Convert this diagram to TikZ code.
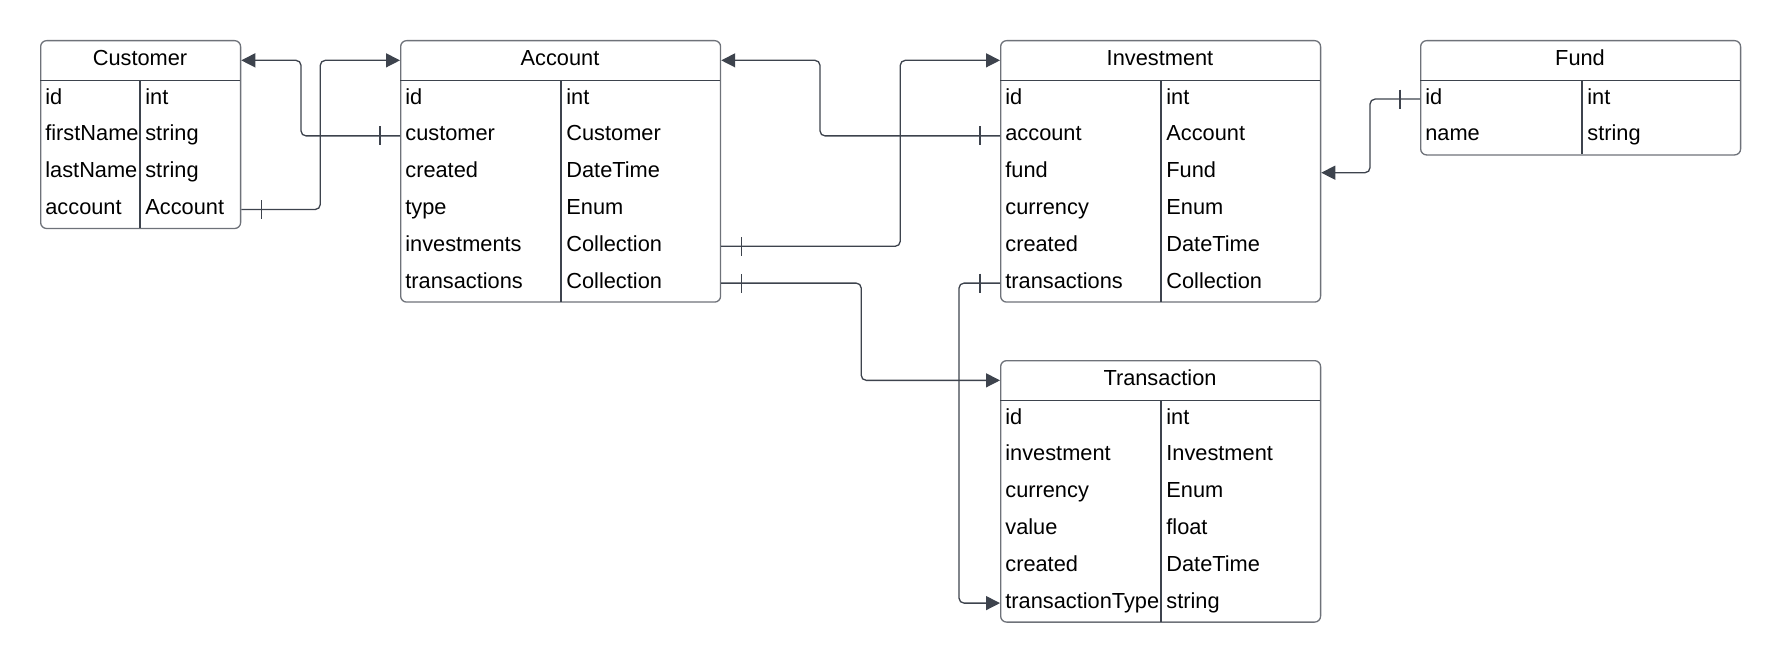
\documentclass[tikz,border=0pt]{standalone}
\usepackage{fontspec}
\setmainfont{Liberation Sans}
\usetikzlibrary{arrows.meta}
\usetikzlibrary{decorations.markings}
\usepackage{xcolor}

\definecolor{boxgray}{HTML}{6E7279}
\definecolor{linkgray}{HTML}{3D434D}

\tikzset{
  tbox/.style={draw=boxgray, line width=0.026cm, rounded corners=0.12cm, anchor=north west, inner sep=0pt},
  sepline/.style={draw=linkgray, line width=0.026cm},
  cell/.style={anchor=west, inner xsep=0.1cm, inner ysep=0pt, text height=0.3cm, text depth=0.1cm, font=\fontsize{12.4}{15}\selectfont},
  link/.style={draw=linkgray, line width=0.026cm, rounded corners=0.1cm, -{Triangle[length=0.28cm,width=0.28cm]}},
  one/.style={postaction={decorate, decoration={markings, mark=at position 0.4cm with {\draw[-, linkgray, line width=0.022cm] (0,-0.19cm) -- (0,0.19cm);}}}}
}

\begin{document}
\begin{tikzpicture}[x=0.02cm, y=-0.02cm]
            \useasboundingbox (0,0) rectangle (1780,662);
            % Customer table
            \node[tbox, minimum width=4cm, minimum height=3.758cm] (customer) at (40,40) {};
            \draw[sepline] (40,80.7) -- (240,80.7) (140,80.7) -- (140,227.9);
            \node[cell, anchor=center] (customer-h) at (140,60.35) {Customer};
            \foreach \f/\t [count=\i] in {id/int, firstName/string, lastName/string, account/Account} {
                \node[cell] (customer-\f) at (40,{62.3+36.8*\i}) {\f};
                \node[cell] (customer-\f-type) at (140,{62.3+36.8*\i}) {\t};
            }

            % Account table
            \node[tbox, minimum width=6.4cm, minimum height=5.23cm] (account) at (400,40) {};
            \draw[sepline] (400,80.7) -- (720,80.7) (561,80.7) -- (561,301.5);
            \node[cell, anchor=center] (account-h) at (560,60.35) {Account};
            \foreach \f/\t [count=\i] in {id/int, customer/Customer, created/DateTime, type/Enum, investments/Collection, transactions/Collection} {
                \node[cell] (account-\f) at (400,{62.3+36.8*\i}) {\f};
                \node[cell] (account-\f-type) at (561,{62.3+36.8*\i}) {\t};
            }

            % Investment table
            \node[tbox, minimum width=6.4cm, minimum height=5.23cm] (investment) at (1000,40) {};
            \draw[sepline] (1000,80.7) -- (1320,80.7) (1161,80.7) -- (1161,301.5);
            \node[cell, anchor=center] (investment-h) at (1160,60.35) {Investment};
            \foreach \f/\t [count=\i] in {id/int, account/Account, fund/Fund, currency/Enum, created/DateTime, transactions/Collection} {
                \node[cell] (investment-\f) at (1000,{62.3+36.8*\i}) {\f};
                \node[cell] (investment-\f-type) at (1161,{62.3+36.8*\i}) {\t};
            }

            % Fund table
            \node[tbox, minimum width=6.4cm, minimum height=2.286cm] (fund) at (1420,40) {};
            \draw[sepline] (1420,80.7) -- (1740,80.7) (1582,80.7) -- (1582,154.3);
            \node[cell, anchor=center] (fund-h) at (1580,60.35) {Fund};
            \foreach \f/\t [count=\i] in {id/int, name/string} {
                \node[cell] (fund-\f) at (1420,{62.3+36.8*\i}) {\f};
                \node[cell] (fund-\f-type) at (1582,{62.3+36.8*\i}) {\t};
            }

            % Transaction table
            \node[tbox, minimum width=6.4cm, minimum height=5.23cm] (transaction) at (1000,360) {};
            \draw[sepline] (1000,400.7) -- (1320,400.7) (1161,400.7) -- (1161,621.5);
            \node[cell, anchor=center] (transaction-h) at (1160,380.35) {Transaction};
            \foreach \f/\t [count=\i] in {id/int, investment/Investment, currency/Enum, value/float, created/DateTime, transactionType/string} {
                \node[cell] (transaction-\f) at (1000,{382.3+36.8*\i}) {\f};
                \node[cell] (transaction-\f-type) at (1161,{382.3+36.8*\i}) {\t};
            }

            % relations
            \draw[link, one] (account.west |- account-customer) -- ++(-99,0) |- (customer.east |- customer-h);
            \draw[link, one] (customer.east |- customer-account) -- ++(79,0) |- (account.west |- account-h);
            \draw[link, one] (investment.west |- investment-account) -- ++(-180,0) |- (account.east |- account-h);
            \draw[link, one] (account.east |- account-investments) -- ++(179,0) |- (investment.west |- investment-h);
            \draw[link, one] (account.east |- account-transactions) -- ++(140,0) |- (transaction.west |- transaction-h);
            \draw[link, one] (investment.west |- investment-transactions) -- ++(-41,0) |- (transaction.west |- transaction-transactionType);
            \draw[link, one] (fund.west |- fund-id) -- ++(-50,0) |- (investment.east |- investment-fund);
        \end{tikzpicture}
\end{document}
